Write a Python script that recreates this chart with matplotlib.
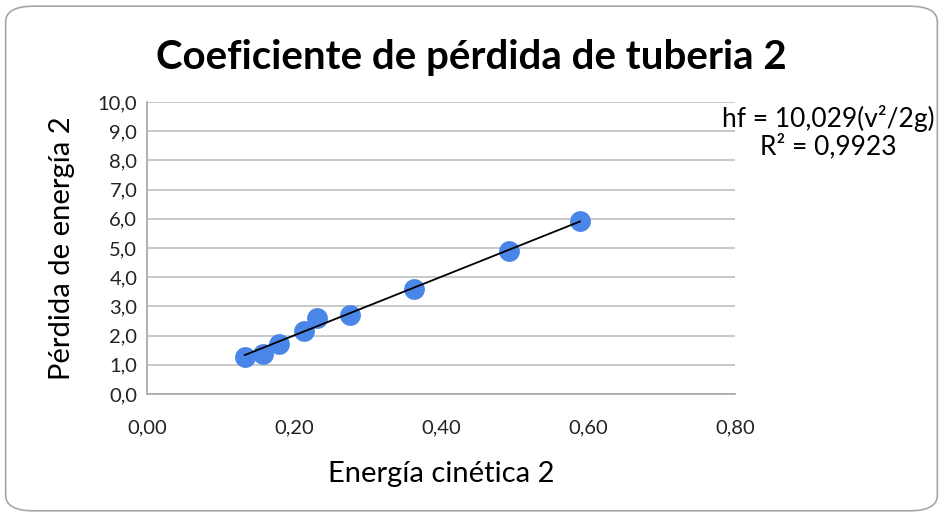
import numpy as np
import matplotlib
matplotlib.use('Agg')
import matplotlib.pyplot as plt
from matplotlib.patches import FancyBboxPatch
from matplotlib.ticker import FuncFormatter, MultipleLocator

# --- datos ---
energia_cinetica = [0.133, 0.158, 0.180, 0.214, 0.231, 0.276, 0.363, 0.492, 0.589]
perdida_energia = [1.27, 1.37, 1.71, 2.16, 2.60, 2.71, 3.60, 4.90, 5.92]
pendiente = 10.029
r2_text = "R² = 0,9923"
eq_text = "hf = 10,029(v²/2g)"

plt.rcParams['font.family'] = ['Lato', 'DejaVu Sans']

fig = plt.figure(figsize=(9.43, 5.16), dpi=100)
fig.patch.set_facecolor('white')
border = FancyBboxPatch((0.006, 0.01), 0.988, 0.978, boxstyle="round,pad=0,rounding_size=0.03",
                        transform=fig.transFigure, fill=False, edgecolor='#a6a6a6', linewidth=1.2)
fig.patches.append(border)

ax = fig.add_axes([0.1559, 0.2364, 0.6235, 0.5659])
x = np.array(energia_cinetica); y = np.array(perdida_energia)
xs = np.array([x.min(), x.max()])
ax.plot(xs, pendiente * xs, color='black', linewidth=1.3, zorder=3)
ax.plot(x, y, 'o', color='#4a86e8', markersize=15, markeredgewidth=0, zorder=2)

ax.set_xlim(0, 0.8); ax.set_ylim(0, 10)
ax.xaxis.set_major_locator(MultipleLocator(0.2))
ax.yaxis.set_major_locator(MultipleLocator(1.0))
ax.xaxis.set_major_formatter(FuncFormatter(lambda v, p: f"{v:.2f}".replace('.', ',')))
ax.yaxis.set_major_formatter(FuncFormatter(lambda v, p: f"{v:.1f}".replace('.', ',')))
ax.tick_params(length=0, labelsize=14.5, colors='#222222', pad=7)
ax.tick_params(axis='x', pad=18)
ax.grid(axis='y', color='#c0c0c0', linewidth=1.2)
ax.set_axisbelow(True)
for s in ['top', 'right']:
    ax.spines[s].set_visible(False)
for s in ['left', 'bottom']:
    ax.spines[s].set_color('#a6a6a6'); ax.spines[s].set_linewidth(1.2)

ax.set_xlabel("Energía cinética 2", fontsize=21, labelpad=18)
ax.set_ylabel("Pérdida de energía 2", fontsize=21, labelpad=16)
fig.text(0.5, 0.888, "Coeficiente de pérdida de tuberia 2", ha='center', va='center',
         fontsize=29, fontweight='bold')
fig.text(0.878, 0.771, eq_text, ha='center', va='center', fontsize=19)
fig.text(0.878, 0.717, r2_text, ha='center', va='center', fontsize=19)

fig.savefig('out.png', dpi=100, facecolor='white')
